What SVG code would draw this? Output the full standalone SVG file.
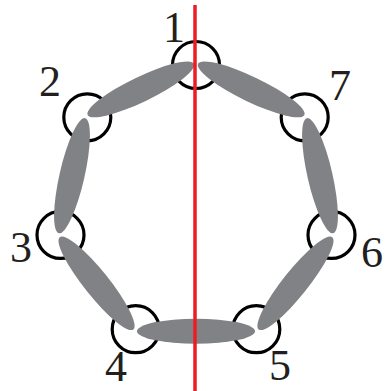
<svg xmlns="http://www.w3.org/2000/svg" width="385" height="391" viewBox="0 0 385 391">
<style>
.ring{fill:none;stroke:#000;stroke-width:3.2}
.lbl{font-family:"Liberation Serif","Times New Roman",serif;font-size:44px;fill:#231f20;text-anchor:middle}
.link{fill:#808285}
</style>
<rect width="385" height="391" fill="#fff"/>
<g id="node1"><circle class="ring" cx="196" cy="65" r="23.5"/><text class="lbl" x="174" y="42">1</text></g>
<g id="node2"><circle class="ring" cx="87.3" cy="117.3" r="23.5"/><text class="lbl" x="50" y="96">2</text></g>
<g id="node3"><circle class="ring" cx="60.5" cy="234.9" r="23.5"/><text class="lbl" x="21" y="262">3</text></g>
<g id="node4"><circle class="ring" cx="135.7" cy="329.2" r="23.5"/><text class="lbl" x="116" y="381">4</text></g>
<g id="node5"><circle class="ring" cx="256.3" cy="329.2" r="23.5"/><text class="lbl" x="280" y="380">5</text></g>
<g id="node6"><circle class="ring" cx="331.5" cy="234.9" r="23.5"/><text class="lbl" x="372" y="267">6</text></g>
<g id="node7"><circle class="ring" cx="304.7" cy="117.3" r="23.5"/><text class="lbl" x="340" y="100">7</text></g>
<g id="connectors">
<ellipse class="link" cx="196" cy="331.2" rx="59" ry="12.5"/>
<ellipse class="link" cx="196" cy="331.2" rx="59" ry="12.5" transform="rotate(-51.4286 196 204)"/>
<ellipse class="link" cx="196" cy="331.2" rx="59" ry="12.5" transform="rotate(-102.857 196 204)"/>
<ellipse class="link" cx="196" cy="331.2" rx="59" ry="12.5" transform="rotate(-154.286 196 204)"/>
<ellipse class="link" cx="196" cy="331.2" rx="59" ry="12.5" transform="rotate(154.286 196 204)"/>
<ellipse class="link" cx="196" cy="331.2" rx="59" ry="12.5" transform="rotate(102.857 196 204)"/>
<ellipse class="link" cx="196" cy="331.2" rx="59" ry="12.5" transform="rotate(51.4286 196 204)"/>
</g>
<line id="axis" x1="195" y1="5" x2="195" y2="391" stroke="#ed1c24" stroke-width="3.5"/>
</svg>
